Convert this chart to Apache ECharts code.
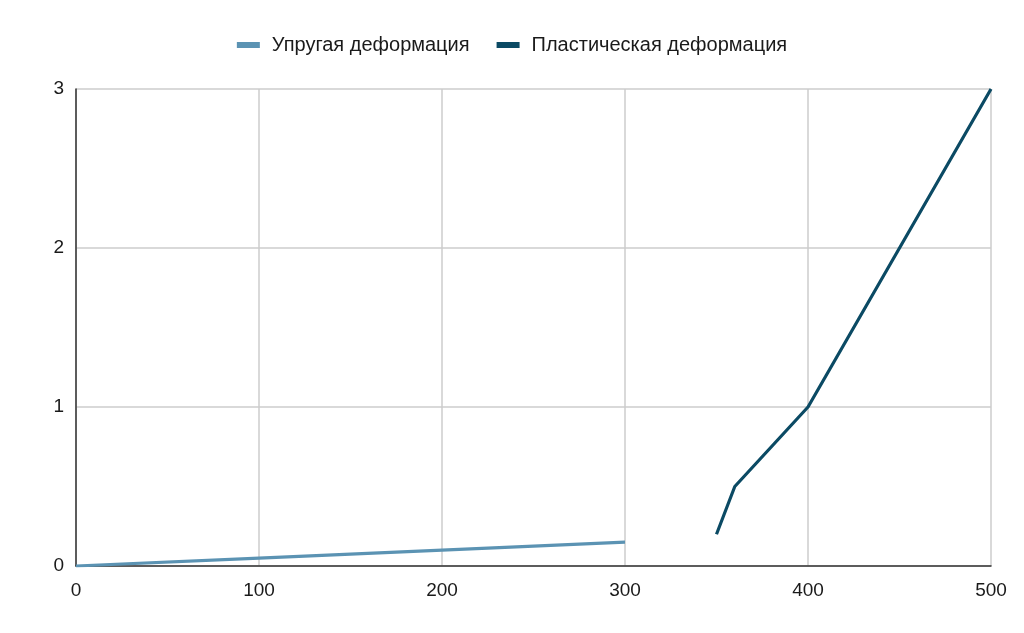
<!DOCTYPE html>
<html>
<head>
<meta charset="utf-8">
<script src="https://cdn.jsdelivr.net/npm/echarts@6/dist/echarts.min.js"></script>
<style>
  html, body { margin: 0; padding: 0; background: #fff; }
  #myChart { width: 1024px; height: 633px; }
</style>
</head>
<body>
<div id="myChart"></div>
<script>
var elasticX = [0, 100, 200, 300];
var elasticY = [0, 0.05, 0.1, 0.15];
var plasticX = [350, 360, 400, 450, 500];
var plasticY = [0.2, 0.5, 1, 2, 3];
var seriesNames = ['Упругая деформация', 'Пластическая деформация'];

function pairs(xs, ys) {
	var out = [];
	for (var i = 0; i < xs.length; i++) {
		out.push([xs[i], ys[i]]);
	}
	return out;
}

var myChart = echarts.init(document.getElementById('myChart'));
var font = 'Liberation Sans, Arial, sans-serif';

myChart.setOption({
	animation: false,
	color: ['#5b93b3', '#0b4a64'],
	textStyle: { fontFamily: font },
	legend: {
		top: 30,
		left: 'center',
		itemWidth: 23,
		itemHeight: 6,
		itemGap: 27,
		icon: 'rect',
		textStyle: { fontSize: 20, color: '#1a1a1a', fontFamily: font, padding: [0, 0, 0, 7] },
		data: seriesNames
	},
	grid: { left: 76, right: 33, top: 89, bottom: 67 },
	xAxis: {
		type: 'value',
		min: 0,
		max: 500,
		interval: 100,
		axisLine: { lineStyle: { color: '#333', width: 1.5 } },
		axisTick: { show: false },
		axisLabel: { fontSize: 19, color: '#1a1a1a', margin: 15, fontFamily: font },
		splitLine: { show: true, lineStyle: { color: '#cccccc', width: 1.5 } }
	},
	yAxis: {
		type: 'value',
		min: 0,
		max: 3,
		interval: 1,
		axisLine: { show: true, lineStyle: { color: '#333', width: 1.5 } },
		axisTick: { show: false },
		axisLabel: { fontSize: 19, color: '#1a1a1a', margin: 12, fontFamily: font },
		splitLine: { lineStyle: { color: '#cccccc', width: 1.5 } }
	},
	series: [{
		name: seriesNames[0],
		type: 'line',
		showSymbol: false,
		lineStyle: { width: 3.2 },
		data: pairs(elasticX, elasticY)
	}, {
		name: seriesNames[1],
		type: 'line',
		showSymbol: false,
		lineStyle: { width: 3.2 },
		data: pairs(plasticX, plasticY)
	}]
});
</script>
</body>
</html>
